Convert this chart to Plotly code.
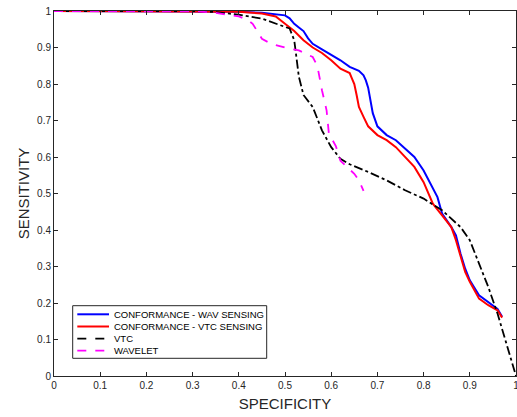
import plotly.graph_objects as go

# CONFORMANCE - WAV SENSING
wav_x = [0.0, 0.2, 0.4, 0.45, 0.48, 0.50, 0.51, 0.52, 0.53, 0.54, 0.55, 0.56, 0.58, 0.60, 0.62, 0.64, 0.66, 0.67,
         0.675, 0.68, 0.685, 0.69, 0.70, 0.72, 0.74, 0.76, 0.78, 0.80, 0.82, 0.83, 0.84, 0.86, 0.87, 0.88, 0.89,
         0.90, 0.92, 0.94, 0.96, 0.97]
wav_y = [1.0, 1.0, 0.998, 0.995, 0.99, 0.988, 0.98, 0.965, 0.955, 0.945, 0.925, 0.91, 0.895, 0.88, 0.865, 0.847,
         0.836, 0.824, 0.81, 0.79, 0.75, 0.72, 0.684, 0.66, 0.646, 0.623, 0.6, 0.563, 0.513, 0.49, 0.445, 0.408,
         0.385, 0.335, 0.294, 0.262, 0.221, 0.203, 0.184, 0.162]

# CONFORMANCE - VTC SENSING
vtc_s_x = [0.0, 0.2, 0.4, 0.45, 0.48, 0.50, 0.52, 0.54, 0.56, 0.58, 0.60, 0.62, 0.64, 0.645, 0.65, 0.655, 0.66,
           0.67, 0.68, 0.70, 0.72, 0.74, 0.76, 0.78, 0.80, 0.82, 0.84, 0.86, 0.87, 0.88, 0.89, 0.90, 0.92, 0.94,
           0.96, 0.97]
vtc_s_y = [1.0, 1.0, 0.998, 0.993, 0.985, 0.965, 0.945, 0.92, 0.9, 0.885, 0.865, 0.842, 0.83, 0.815, 0.8, 0.77,
           0.737, 0.71, 0.684, 0.66, 0.646, 0.627, 0.6, 0.573, 0.531, 0.472, 0.44, 0.408, 0.372, 0.326, 0.285,
           0.258, 0.212, 0.194, 0.18, 0.16]

# VTC
vtc_x = [0.0, 0.3, 0.35, 0.40, 0.45, 0.48, 0.51, 0.52, 0.525, 0.53, 0.54, 0.56, 0.58, 0.60, 0.62, 0.64, 0.68,
         0.72, 0.76, 0.80, 0.84, 0.88, 0.90, 0.92, 0.94, 0.96, 0.98, 1.0]
vtc_y = [1.0, 1.0, 0.997, 0.99, 0.979, 0.965, 0.952, 0.92, 0.865, 0.82, 0.77, 0.737, 0.673, 0.627, 0.595, 0.58,
         0.559, 0.536, 0.509, 0.486, 0.454, 0.408, 0.372, 0.308, 0.244, 0.171, 0.089, 0.0]

# WAVELET
wl_x = [0.0, 0.3, 0.35, 0.40, 0.42, 0.43, 0.45, 0.47, 0.50, 0.53, 0.56, 0.57, 0.58, 0.59, 0.595, 0.61, 0.62,
        0.635, 0.65, 0.66, 0.67]
wl_y = [1.0, 1.0, 0.995, 0.985, 0.975, 0.965, 0.924, 0.91, 0.9, 0.892, 0.874, 0.85, 0.783, 0.728, 0.664, 0.63,
        0.59, 0.573, 0.554, 0.536, 0.507]

series_names = ["CONFORMANCE - WAV SENSING", "CONFORMANCE - VTC SENSING", "VTC", "WAVELET"]
series_colors = ["#0000ff", "#ff0000", "#000000", "#ff00ff"]
series_dash = ["solid", "solid", "dashdot", "dash"]
series_width = [2, 2, 1.8, 1.8]
legend_dash = ["solid", "solid", "dash", "dash"]

FONT = "Liberation Sans, Arial, Helvetica, sans-serif"
W, H = 517, 417
ML, MR, MT, MB = 54, 1, 11, 41
PW, PH = W - ML - MR, H - MT - MB


def px_x(p):
    return (p - ML) / PW


def px_y(p):
    return (H - MB - p) / PH


fig = go.Figure()
for xs, ys, n, c, d, w in zip([wav_x, vtc_s_x, vtc_x, wl_x], [wav_y, vtc_s_y, vtc_y, wl_y],
                              series_names, series_colors, series_dash, series_width):
    fig.add_trace(go.Scatter(x=xs, y=ys, mode="lines", name=n, showlegend=False,
                             line=dict(color=c, width=w, dash=d)))

axis_common = dict(
    range=[0, 1], dtick=0.1, tick0=0, ticks="inside", ticklen=4, tickcolor="#262626",
    showline=True, linecolor="#262626", linewidth=1, mirror="ticks", showgrid=False,
    zeroline=False, automargin=False, tickformat="~g", ticklabeloverflow="allow",
    tickfont=dict(family=FONT, size=10, color="#262626"),
)

# Manual legend box (MATLAB style compact legend)
shapes = [dict(type="rect", xref="paper", yref="paper", x0=px_x(72.7), x1=px_x(266.7),
               y0=px_y(358.3), y1=px_y(305.7), line=dict(color="#262626", width=1),
               fillcolor="white", layer="above")]
annotations = []
row_y = [314.3, 326.5, 338.6, 350.7]
for ry, n, c, d, w in zip(row_y, series_names, series_colors, legend_dash, series_width):
    shapes.append(dict(type="line", xref="paper", yref="paper", x0=px_x(77.3), x1=px_x(109),
                       y0=px_y(ry), y1=px_y(ry), line=dict(color=c, width=w, dash=d), layer="above"))
    annotations.append(dict(text=n, xref="paper", yref="paper", x=px_x(112.3), y=px_y(ry),
                            xanchor="left", yanchor="middle", showarrow=False,
                            font=dict(family=FONT, size=9.5, color="#000000")))

fig.update_layout(
    width=W, height=H,
    margin=dict(l=ML, r=MR, t=MT, b=MB),
    paper_bgcolor="white", plot_bgcolor="white",
    font=dict(family=FONT, color="#262626"),
    xaxis=dict(**axis_common,
               title=dict(text="SPECIFICITY", font=dict(family=FONT, size=15, color="#262626"), standoff=8)),
    yaxis=dict(**axis_common,
               title=dict(text="SENSITIVITY", font=dict(family=FONT, size=15, color="#262626"), standoff=3)),
    shapes=shapes,
    annotations=annotations,
    showlegend=False,
)

fig.write_html("out.html", config={"displayModeBar": False},
               post_script="document.body.style.margin='0';")
